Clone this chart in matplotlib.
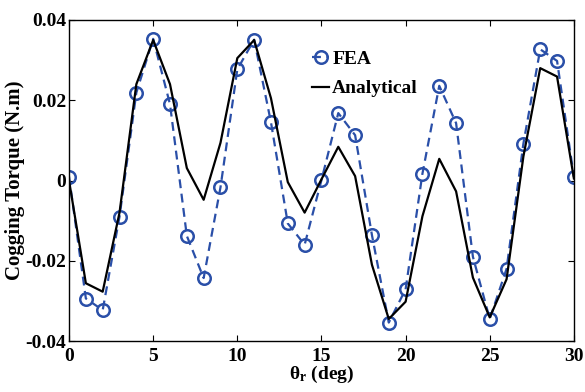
import matplotlib
matplotlib.use('Agg')
import matplotlib.pyplot as plt

theta = list(range(0, 31))

fea = [0.001, -0.0294, -0.0323, -0.009, 0.0219, 0.0353, 0.019, -0.0138, -0.0243, -0.0017,
       0.0277, 0.0351, 0.0145, -0.0107, -0.016, 0.0001, 0.0168, 0.0113, -0.0136, -0.0354,
       -0.0271, 0.0017, 0.0236, 0.0143, -0.019, -0.0345, -0.022, 0.0092, 0.0327, 0.0298, 0.0009]

analytical = [0.0, -0.0256, -0.0277, -0.008, 0.024, 0.035, 0.024, 0.0031, -0.0048, 0.0094,
              0.0305, 0.035, 0.0205, -0.0004, -0.008, 0.0003, 0.0084, 0.0011, -0.021, -0.0345,
              -0.0302, -0.0089, 0.0054, -0.0027, -0.0242, -0.0341, -0.0246, 0.006, 0.028, 0.0259, 0.0005]

xticks = [0, 5, 10, 15, 20, 25, 30]
yticks = [-0.04, -0.02, 0, 0.02, 0.04]
ytick_labels = ['-0.04', '-0.02', '0', '0.02', '0.04']

plt.rcParams['font.family'] = ['Liberation Serif', 'DejaVu Serif']
plt.rcParams['font.weight'] = 'bold'
plt.rcParams['mathtext.fontset'] = 'custom'
plt.rcParams['mathtext.rm'] = 'Liberation Serif:bold'
plt.rcParams['mathtext.it'] = 'Liberation Serif:bold'
plt.rcParams['mathtext.bf'] = 'Liberation Serif:bold'

fig = plt.figure(figsize=(5.85, 3.92), dpi=100)
ax = fig.add_axes([0.118, 0.130, 0.863, 0.819])

ax.plot(theta, fea, linestyle='--', color='#2a4fa8', linewidth=1.6, marker='o',
        markersize=9, markerfacecolor='none', markeredgewidth=1.8, markeredgecolor='#2a4fa8',
        dashes=(4, 2.5), label='FEA')
ax.plot(theta, analytical, color='black', linewidth=1.6, label='Analytical')

ax.set_xlim(0, 30)
ax.set_ylim(-0.04, 0.04)
ax.set_xticks(xticks)
ax.set_yticks(yticks)
ax.set_yticklabels(ytick_labels)
ax.tick_params(direction='in', top=True, right=True, labelsize=14, length=4, width=0.8, pad=2)
ax.tick_params(axis='x', pad=5)
for lab in ax.get_xticklabels() + ax.get_yticklabels():
    lab.set_fontweight('bold')

ax.set_xlabel(r'$\mathbf{\theta_r}$ (deg)', fontsize=14, fontweight='bold', labelpad=-1)
ax.set_ylabel('Cogging Torque (N.m)', fontsize=15, fontweight='bold', labelpad=0)

for s in ax.spines.values():
    s.set_linewidth(1.0)

leg = ax.legend(loc='upper left', bbox_to_anchor=(0.481, 0.905), frameon=False,
                prop={'weight': 'bold', 'size': 14}, handlelength=0.9, handletextpad=0.15,
                borderaxespad=0, borderpad=0, labelspacing=0.6)

fig.savefig('out.png', dpi=100)
